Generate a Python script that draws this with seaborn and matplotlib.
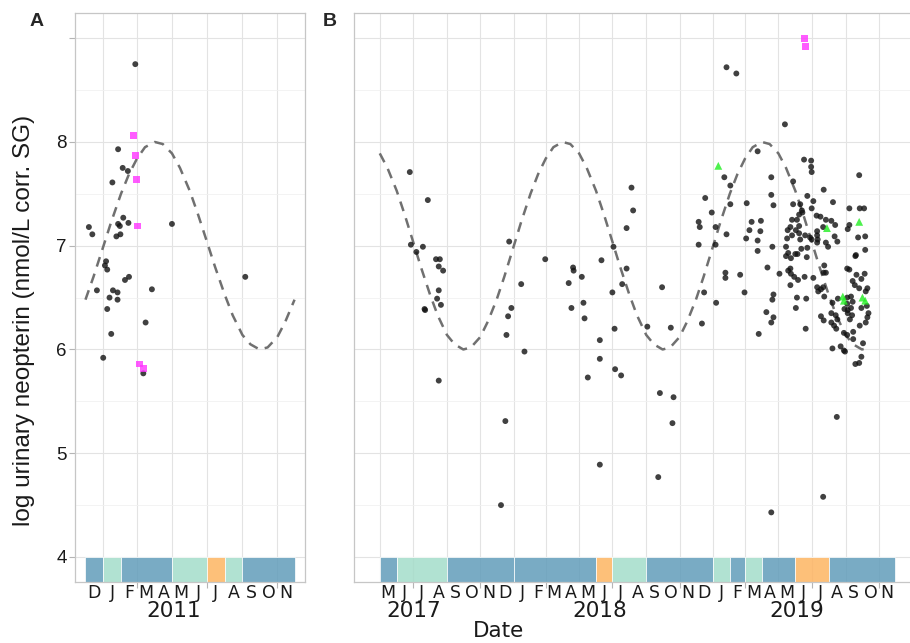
import numpy as np
import pandas as pd
import matplotlib
matplotlib.use('Agg')
import matplotlib.pyplot as plt
import matplotlib.dates as mdates
import matplotlib.transforms as mtrans
import seaborn as sns

sns.set_theme(style='white')
plt.rcParams['font.family'] = ['DejaVu Sans']

#%% data
# panel A: sampling day (days after 2010-12-01) and log neopterin
a_origin = '2010-12-01'
a_days = [6, 12, 20, 31, 34, 36, 38, 38, 42, 45, 47, 48, 54, 56, 56, 57, 57, 60, 61, 65,
          66, 69, 74, 75, 76, 87, 101, 105, 116, 151, 279]
a_vals = [7.18, 7.11, 6.57, 5.92, 6.81, 6.85, 6.77, 6.39, 6.50, 6.15, 7.61, 6.57, 7.09, 6.55,
          6.48, 7.93, 7.21, 7.19, 7.11, 7.75, 7.27, 6.67, 7.72, 7.22, 6.70, 8.75, 5.77, 6.26,
          6.58, 7.21, 6.70]
a_sq_days = [84, 87, 89, 91, 95, 101]
a_sq_vals = [8.06, 7.87, 7.64, 7.19, 5.86, 5.82]

# panel B: days after 2017-05-01
b_origin = '2017-05-01'
b_days = [55, 88, 57, 79, 67, 103, 110, 108, 116, 108, 105, 112, 83, 82, 108, 237, 259, 241,
          235, 232, 265, 230, 222, 303, 354, 355, 346, 370, 351, 373, 375, 406, 403, 403, 381, 403,
          461, 464, 452, 428, 452, 444, 426, 517, 430, 490, 533, 431, 442, 513, 538, 536, 510, 635,
          653, 692, 631, 642, 596, 642, 672, 608, 584, 586, 615, 681, 698, 677, 697, 635, 671, 692,
          584, 615, 692, 719, 717, 717, 721, 710, 633, 633, 660, 732, 594, 668, 721, 719, 616, 590,
          708, 721, 717, 694, 717,
          742, 777, 790, 790, 791, 878, 757, 813, 783, 757, 770, 794, 830, 791, 860, 879, 887, 773,
          774, 768, 800, 807, 755, 764, 817, 827, 860, 834, 752, 768, 812, 857, 747, 762, 801, 833,
          755, 768, 746, 779, 788, 791, 801, 802, 770, 876, 889, 838, 817, 821, 801, 744, 772, 783,
          748, 744, 761, 765, 753, 782, 871, 872, 889, 814, 856, 752,
          748, 753, 759, 766, 778, 794, 813, 817, 860, 888, 866, 873, 882, 752, 801, 808, 812, 803,
          870, 878, 893, 890, 764, 781, 814, 839, 856, 863, 829, 856, 866, 882, 892, 762, 851, 857,
          863, 827, 835, 857, 865, 895, 893, 808, 813, 838, 861, 890, 827, 832, 836, 879, 780, 850,
          856, 867, 867, 885, 829, 844, 850, 852, 882, 871, 878, 837, 812]
b_vals = [7.71, 7.44, 7.01, 6.99, 6.94, 6.87, 6.87, 6.80, 6.76, 6.57, 6.49, 6.43, 6.38, 6.39,
          5.70, 7.04, 6.63, 6.40, 6.32, 6.14, 5.98, 5.31, 4.50, 6.87, 6.79, 6.76, 6.64, 6.70, 6.40,
          6.45, 6.30, 6.86, 6.09, 5.91, 5.73, 4.89,
          7.56, 7.34, 7.17, 6.99, 6.78, 6.63, 6.55, 6.60, 6.20, 6.22, 6.21, 5.81, 5.75, 5.58, 5.54,
          5.29, 4.77, 8.72, 8.66, 7.91, 7.66, 7.58, 7.46, 7.40, 7.41, 7.32, 7.23, 7.18, 7.18, 7.23,
          7.24, 7.15, 7.14, 7.11, 7.07, 7.05, 7.01, 7.01, 6.95, 6.99, 7.66, 7.49, 7.39, 6.79, 6.74,
          6.69, 6.72, 6.73, 6.55, 6.55, 6.53, 6.48, 6.45, 6.25, 6.36, 6.31, 6.26, 6.15, 4.43,
          8.17, 7.83, 7.82, 7.76, 7.71, 7.68, 7.62, 7.54, 7.48, 7.40, 7.40, 7.43, 7.42, 7.36, 7.36,
          7.36, 7.36, 7.34, 7.32, 7.30, 7.29, 7.28, 7.25, 7.25, 7.25, 7.24, 7.20, 7.20, 7.18, 7.19,
          7.18, 7.16, 7.15, 7.15, 7.14, 7.09, 7.10, 7.12, 7.07, 7.10, 7.08, 7.06, 7.10, 7.06, 7.06,
          7.08, 7.09, 7.04, 7.03, 6.99, 7.03, 6.99, 6.97, 6.98, 6.93, 6.90, 6.92, 6.92, 6.88, 6.89,
          6.90, 6.91, 6.96, 6.81, 6.78, 6.78,
          6.76, 6.73, 6.70, 6.67, 6.70, 6.69, 6.74, 6.74, 6.77, 6.73, 6.66, 6.72, 6.68, 6.62, 6.60,
          6.58, 6.60, 6.56, 6.62, 6.59, 6.59, 6.56, 6.50, 6.49, 6.51, 6.49, 6.50, 6.51, 6.45, 6.44,
          6.46, 6.40, 6.42, 6.40, 6.39, 6.38, 6.40, 6.35, 6.33, 6.35, 6.33, 6.35, 6.31, 6.32, 6.28,
          6.29, 6.29, 6.26, 6.26, 6.23, 6.20, 6.23, 6.20, 6.16, 6.14, 6.17, 6.10, 6.06, 6.01, 6.03,
          5.99, 5.98, 5.93, 5.86, 5.87, 5.35, 4.58]
b_sq_days = [778, 779]
b_sq_vals = [9.00, 8.92]
b_tri_days = [620, 878, 819, 848, 850, 884, 889]
b_tri_vals = [7.77, 7.23, 7.17, 6.51, 6.47, 6.50, 6.47]

# dashed seasonal curve, read on the 1st and the 15th of each month (Jan..Dec)
curve_1st = [6.99, 7.50, 7.84, 8.00, 7.89, 7.53, 7.04, 6.53, 6.14, 6.00, 6.12, 6.48]
curve_15th = [7.23, 7.69, 7.95, 7.98, 7.75, 7.31, 6.80, 6.33, 6.05, 6.02, 6.27, 6.70]
curve_span_a = ('2010-12-01', '2011-12-01')
curve_span_b = ('2017-05-01', '2019-10-15')

# season blocks at the bottom: first month, last month, season
seasons_a = [('2010-12', '2010-12', 'wet'), ('2011-01', '2011-01', 'mid'),
             ('2011-02', '2011-04', 'wet'), ('2011-05', '2011-06', 'mid'),
             ('2011-07', '2011-07', 'dry'), ('2011-08', '2011-08', 'mid'),
             ('2011-09', '2011-11', 'wet')]
seasons_b = [('2017-05', '2017-05', 'wet'), ('2017-06', '2017-08', 'mid'),
             ('2017-09', '2017-12', 'wet'), ('2018-01', '2018-05', 'wet'),
             ('2018-06', '2018-06', 'dry'), ('2018-07', '2018-08', 'mid'),
             ('2018-09', '2018-12', 'wet'), ('2019-01', '2019-01', 'mid'),
             ('2019-02', '2019-02', 'wet'), ('2019-03', '2019-03', 'mid'),
             ('2019-04', '2019-05', 'wet'), ('2019-06', '2019-07', 'dry'),
             ('2019-08', '2019-11', 'wet')]
season_colors = {'wet': '#629DBA', 'mid': '#A4DDCA', 'dry': '#FDB562'}

month_letters = ['J', 'F', 'M', 'A', 'M', 'J', 'J', 'A', 'S', 'O', 'N', 'D']
years_a = [('2011-05-04', '2011')]
years_b = [('2017-07-03', '2017'), ('2018-06-08', '2018'), ('2019-06-03', '2019')]

#%% plotting
W, H = 910, 643
Y0, Y1 = 3.759, 9.243
fig = plt.figure(figsize=(W / 100, H / 100), dpi=100)


def px_axes(l, r, t, b):
    return fig.add_axes([l / W, 1 - b / H, (r - l) / W, (b - t) / H])


def make_df(origin, days, vals, grp):
    t = pd.Timestamp(origin) + pd.to_timedelta(days, unit='D')
    return pd.DataFrame({'date': mdates.date2num(t), 'val': vals, 'group': grp})


def curve_knots(span):
    firsts = pd.date_range(pd.Timestamp(span[0]) - pd.offsets.MonthBegin(1), span[1], freq='MS')
    knots = []
    for m in firsts:
        knots.append((m, curve_1st[m.month - 1]))
        knots.append((m + pd.Timedelta(days=14), curve_15th[m.month - 1]))
    knots = [(d, v) for d, v in knots if pd.Timestamp(span[0]) <= d <= pd.Timestamp(span[1])]
    return mdates.date2num([d for d, _ in knots]), [v for _, v in knots]


pal = {'base': '#111111', 'sq': '#ff33ff', 'tri': '#22ee22'}
mk = {'base': 'o', 'sq': 's', 'tri': '^'}
sz = {'base': 18, 'sq': 24, 'tri': 32}


def draw_panel(ax, pts, seasons, curve_span, years, show_y):
    starts = [pd.Timestamp(s0) for s0, _, _ in seasons]
    ends = [pd.Timestamp(s1) + pd.offsets.MonthBegin(1) for _, s1, _ in seasons]
    x0 = mdates.date2num(starts)
    x1 = mdates.date2num(ends)
    ax.bar(x0, 4 - Y0, width=x1 - x0, bottom=Y0, align='edge',
           color=[season_colors[s] for _, _, s in seasons], alpha=0.85,
           edgecolor='white', linewidth=0.6, zorder=1)

    cx, cy = curve_knots(curve_span)
    ax.plot(cx, cy, color='#707070', lw=1.8, linestyle=(0, (4, 3)), zorder=2)

    sns.scatterplot(data=pts, x='date', y='val', hue='group', style='group', size='group',
                    palette=pal, markers=mk, sizes=sz, linewidth=0, alpha=0.8,
                    legend=False, ax=ax, zorder=3)

    lo, hi = starts[0], ends[-1]
    pad = (hi - lo) * 0.05
    ax.set_xlim(mdates.date2num(lo - pad), mdates.date2num(hi + pad))
    ax.set_ylim(Y0, Y1)

    mstarts = pd.date_range(lo, hi, freq='MS')
    ax.set_xticks(mdates.date2num([m for m in mstarts if m.month in (3, 7, 11)]))
    ax.set_xticks(mdates.date2num([m for m in mstarts if m.month in (1, 5, 9)]), minor=True)
    ax.set_xticklabels([])
    ax.set_yticks([4, 5, 6, 7, 8, 9])
    ax.set_yticks([4.5, 5.5, 6.5, 7.5, 8.5], minor=True)
    ax.set_axisbelow(True)
    ax.xaxis.grid(True, which='both', color='#e3e3e3', lw=0.8)
    ax.yaxis.grid(True, which='major', color='#e3e3e3', lw=0.8)
    ax.yaxis.grid(True, which='minor', color='#f1f1f1', lw=0.6)
    ax.tick_params(axis='x', which='major', length=4, width=0.8, color='#b5b5b5', bottom=True)
    ax.tick_params(axis='both', which='minor', length=0)
    if show_y:
        ax.set_yticklabels(['4', '5', '6', '7', '8', ''], family='Liberation Sans',
                           fontsize=13.5, color='#1a1a1a')
        ax.tick_params(axis='y', which='major', length=4, width=0.8, color='#b5b5b5',
                       left=True, pad=2)
    else:
        ax.set_yticklabels([])
        ax.tick_params(axis='y', length=0)
    ax.set_xlabel('')
    ax.set_ylabel('')
    for sp in ax.spines.values():
        sp.set_color('#c6c6c6')
        sp.set_linewidth(0.9)

    trans = mtrans.blended_transform_factory(ax.transData, fig.transFigure)
    for m in pd.date_range(lo, hi - pd.Timedelta(days=1), freq='MS'):
        mid = m + pd.Timedelta(days=m.days_in_month / 2)
        ax.text(mdates.date2num(mid), 1 - 593.5 / H, month_letters[m.month - 1],
                transform=trans, ha='center', va='center', fontsize=12.5, color='#1a1a1a')
    for d, lab in years:
        ax.text(mdates.date2num(pd.Timestamp(d)), 1 - 611 / H, lab, transform=trans,
                ha='center', va='center', fontsize=15.5, color='#1a1a1a')


pts_a = pd.concat([make_df(a_origin, a_days, a_vals, 'base'),
                   make_df(a_origin, a_sq_days, a_sq_vals, 'sq')])
pts_b = pd.concat([make_df(b_origin, b_days, b_vals, 'base'),
                   make_df(b_origin, b_sq_days, b_sq_vals, 'sq'),
                   make_df(b_origin, b_tri_days, b_tri_vals, 'tri')])

axA = px_axes(75, 305, 13, 582)
axB = px_axes(354, 921, 13, 582)
draw_panel(axA, pts_a, seasons_a, curve_span_a, years_a, True)
draw_panel(axB, pts_b, seasons_b, curve_span_b, years_b, False)

fig.text(24 / W, 1 - 320 / H, 'log urinary neopterin (nmol/L corr. SG)', rotation=90,
         ha='center', va='center', fontsize=17.5, family='Liberation Sans', color='#1a1a1a')
fig.text(498 / W, 1 - 631 / H, 'Date', ha='center', va='center', fontsize=15.5, color='#1a1a1a')
fig.text(37 / W, 1 - 22 / H, 'A', ha='center', va='center', fontsize=14, weight='bold',
         family='Liberation Sans')
fig.text(330 / W, 1 - 22 / H, 'B', ha='center', va='center', fontsize=14, weight='bold',
         family='Liberation Sans')

fig.savefig('out.png', dpi=100)
